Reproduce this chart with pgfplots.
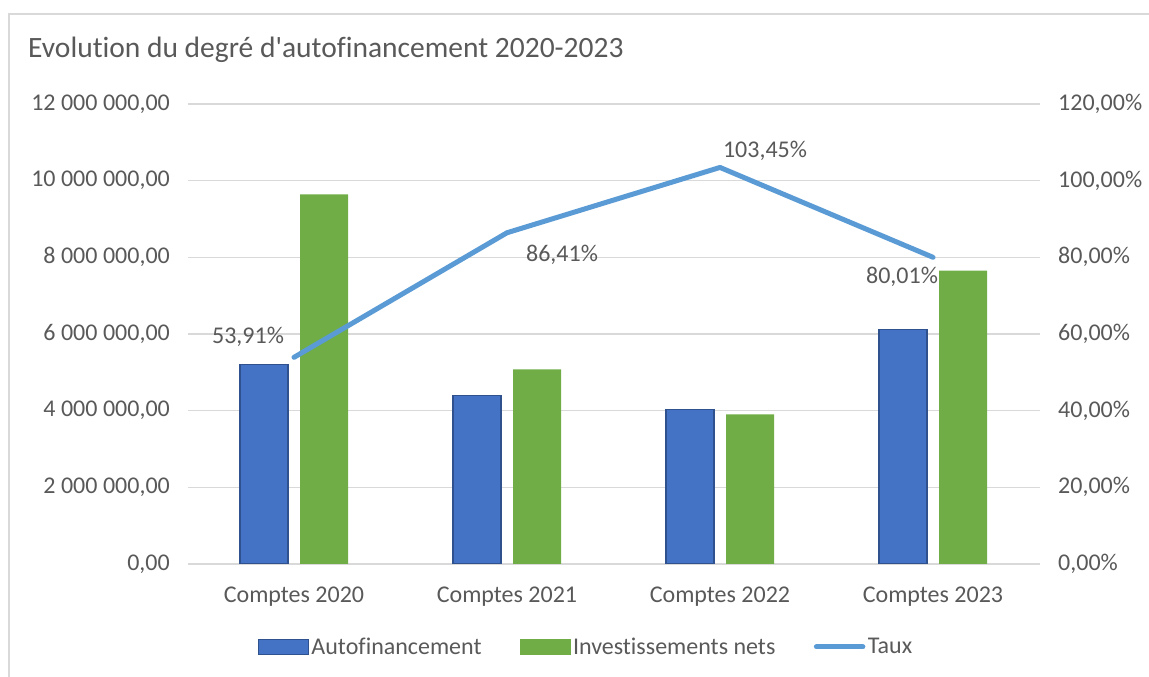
\documentclass[border=0pt]{standalone}
\usepackage{pgfplots}
\pgfplotsset{compat=1.18}
\usepackage{fontspec}
\setmainfont{Carlito}[Ligatures=CommonOff]
\definecolor{barblue}{HTML}{4472C4}
\definecolor{bardark}{HTML}{2F528F}
\definecolor{bargreen}{HTML}{70AD47}
\definecolor{lineblue}{HTML}{5B9BD5}
\definecolor{gridgray}{HTML}{D9D9D9}
\definecolor{textgray}{HTML}{595959}
\newcommand{\lbl}{\fontsize{24}{28}\selectfont}
\begin{document}
\begin{tikzpicture}[x=1pt,y=1pt]
\useasboundingbox (0,0) rectangle (1149,677);
\draw[gridgray, line width=1.5pt] (9,0) -- (9,663) -- (1149,663);
\node[anchor=base west, font=\fontsize{29.5}{35}\selectfont, text=textgray, inner sep=0pt] at (28,619) {Evolution du degré d\textquotesingle autofinancement 2020-2023};
\begin{axis}[
  at={(187.5pt,113pt)}, anchor=south west,
  scale only axis, width=852pt, height=460pt,
  xmin=-0.5, xmax=3.5, ymin=0, ymax=12000000,
  axis line style={draw=none},
  major tick length=0pt,
  ymajorgrids, grid style={gridgray, line width=1.2pt},
  ytick={0,2000000,4000000,6000000,8000000,10000000,12000000},
  yticklabels={{0,00},{2 000 000,00},{4 000 000,00},{6 000 000,00},{8 000 000,00},{10 000 000,00},{12 000 000,00}},
  scaled y ticks=false,
  xtick={0,1,2,3},
  xticklabels={Comptes 2020,Comptes 2021,Comptes 2022,Comptes 2023},
  tick label style={font=\lbl, text=textgray, inner sep=0pt},
  yticklabel style={anchor=east, xshift=-17.5pt},
  xticklabel style={anchor=north, yshift=-23pt},
  ybar=12pt, bar width=48pt,
]
\addplot[fill=barblue, draw=bardark, line width=1.2pt] coordinates {(0,5197000) (1,4390000) (2,4035000) (3,6121000)};
\addplot[fill=bargreen, draw=none] coordinates {(0,9640000) (1,5080000) (2,3900000) (3,7650000)};
\end{axis}
\begin{axis}[
  at={(187.5pt,113pt)}, anchor=south west,
  scale only axis, width=852pt, height=460pt,
  xmin=-0.5, xmax=3.5, ymin=0, ymax=120,
  axis line style={draw=none}, major tick length=0pt,
  xtick=\empty,
  ytick={0,20,40,60,80,100,120},
  yticklabels={{0,00\%},{20,00\%},{40,00\%},{60,00\%},{80,00\%},{100,00\%},{120,00\%}},
  yticklabel pos=right,
  tick label style={font=\lbl, text=textgray, inner sep=0pt},
  yticklabel style={anchor=west, xshift=18.5pt},
  legend columns=3,
  legend cell align=left,
  legend style={at={(0.4680,-0.18)}, anchor=center, draw=none, fill=none, font=\lbl, text=textgray,
    /tikz/every even column/.append style={column sep=36pt}, nodes={inner sep=2.5pt}},
]
\addlegendimage{legend image code/.code={\draw[fill=barblue, draw=bardark, line width=1.2pt] (0pt,-7.5pt) rectangle (50pt,7.5pt);}}
\addlegendentry{Autofinancement}
\addlegendimage{legend image code/.code={\fill[bargreen] (0pt,-7.5pt) rectangle (50pt,7.5pt);}}
\addlegendentry{Investissements nets}
\addplot[lineblue, line width=5pt, line cap=round, line join=round,
  legend image code/.code={\draw[lineblue, line width=5pt, line cap=round] (2.5pt,0pt) -- (49pt,0pt);}]
  coordinates {(0,53.91) (1,86.41) (2,103.45) (3,80.01)};
\addlegendentry{Taux}
\node[font=\lbl, text=textgray, xshift=-46pt, yshift=20pt] at (axis cs:0,53.91) {53,91\%};
\node[font=\lbl, text=textgray, xshift=55pt, yshift=-22pt] at (axis cs:1,86.41) {86,41\%};
\node[font=\lbl, text=textgray, xshift=45pt, yshift=17pt] at (axis cs:2,103.45) {103,45\%};
\node[font=\lbl, text=textgray, xshift=-31pt, yshift=-20pt] at (axis cs:3,80.01) {80,01\%};
\end{axis}
\end{tikzpicture}
\end{document}
